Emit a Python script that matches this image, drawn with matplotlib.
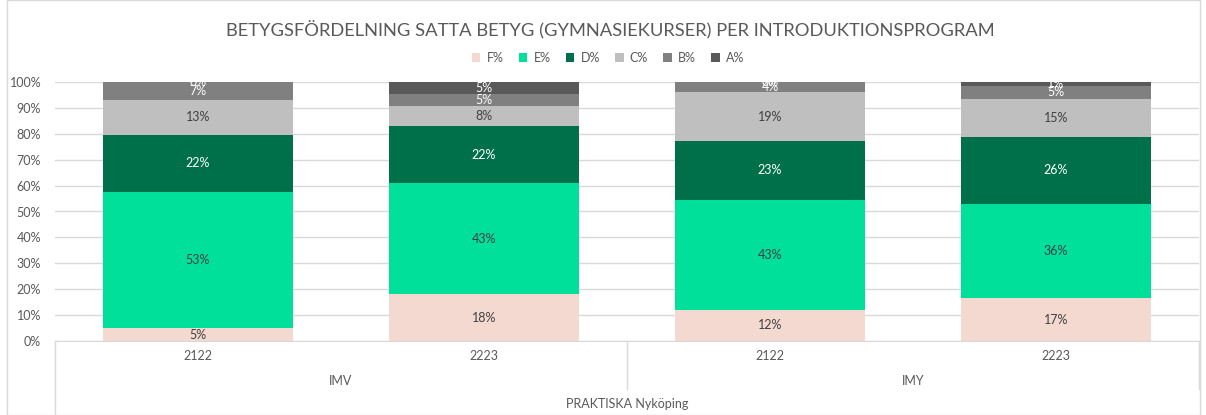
import numpy as np
import matplotlib
matplotlib.use("Agg")
import matplotlib.pyplot as plt
from matplotlib.patches import Rectangle

# Dados
anos = ['2122', '2223', '2122', '2223']
programas = ['IMV', 'IMY']
escola = 'PRAKTISKA Nyköping'
betyg = ['F%', 'E%', 'D%', 'C%', 'B%', 'A%']

F = [5.0, 18.1, 12.0, 16.6]
E = [52.6, 42.9, 42.6, 36.3]
D = [22.0, 22.0, 22.7, 25.9]
C = [13.4, 7.7, 18.7, 14.7]
B = [7.0, 4.7, 4.0, 5.1]
A = [0.0, 4.6, 0.0, 1.4]

cores = ['#F4D9D0', '#00E09A', '#00704A', '#BFBFBF', '#808080', '#595959']
corTexto = ['#404040', '#404040', 'white', '#404040', 'white', 'white']

plt.rcParams['font.family'] = ['Lato', 'DejaVu Sans']

W, H = 1206, 415
fig = plt.figure(figsize=(W / 100, H / 100), dpi=100)

# area do grafico em pixels
x0, x1 = 55, 1199
yTop, yBase = 82, 341
ax = fig.add_axes([x0 / W, 1 - yBase / H, (x1 - x0) / W, (yBase - yTop) / H])

x = np.arange(len(anos))
series = [F, E, D, C, B, A]
base = np.zeros(len(anos))
for i, s in enumerate(series):
    s = np.array(s)
    ax.bar(x, s, 0.665, bottom=base, color=cores[i], label=betyg[i], zorder=2)
    for j in range(len(anos)):
        ax.text(x[j], base[j] + s[j] / 2, '{:.0f}%'.format(s[j]), ha='center', va='center',
                fontsize=9, color=corTexto[i], zorder=3)
    base = base + s

ax.set_xlim(-0.5, len(anos) - 0.5)
ax.set_ylim(0, 100)
ax.set_yticks(np.arange(0, 101, 10))
ax.set_yticklabels(['{}%'.format(v) for v in range(0, 101, 10)], fontsize=9, color='#595959')
ax.grid(axis='y', color='#D9D9D9', linewidth=1, zorder=0)
ax.set_xticks([])
ax.tick_params(axis='y', length=0, pad=10)
for lado in ['top', 'right', 'left']:
    ax.spines[lado].set_visible(False)
ax.spines['bottom'].set_color('#D9D9D9')

# eixo de categorias em varios niveis
alturaAx = yBase - yTop
def yAx(py):
    return (yBase - py) / alturaAx

tr = ax.get_xaxis_transform()
for j in range(len(anos)):
    ax.text(x[j], yAx(356), anos[j], ha='center', va='center', fontsize=9, color='#595959', transform=tr)
for k, p in enumerate(programas):
    ax.text(0.5 + 2 * k, yAx(381), p, ha='center', va='center', fontsize=9, color='#595959', transform=tr)
ax.text(1.5, yAx(404), escola, ha='center', va='center', fontsize=9, color='#595959', transform=tr)

ax.plot([-0.5, -0.5], [0, yAx(415)], color='#D9D9D9', lw=1, transform=tr, clip_on=False)
ax.plot([1.5, 1.5], [0, yAx(389)], color='#D9D9D9', lw=1, transform=tr, clip_on=False)
ax.plot([3.5, 3.5], [0, yAx(389)], color='#D9D9D9', lw=1, transform=tr, clip_on=False)

# titulo e legenda
fig.text(0.506, 1 - 30 / H, 'BETYGSFÖRDELNING SATTA BETYG (GYMNASIEKURSER) PER INTRODUKTIONSPROGRAM',
         ha='center', va='center', fontsize=13.2, color='#595959')
fig.legend(loc='center', bbox_to_anchor=(608 / W, 1 - 58 / H), ncol=6, frameon=False, fontsize=9,
           handlelength=0.7, handleheight=0.7, handletextpad=0.5, columnspacing=1.2,
           labelcolor='#595959')

# moldura
fig.patches.append(Rectangle((7 / W, 0), (1200 - 7) / W, 1, transform=fig.transFigure,
                             fill=False, edgecolor='#D9D9D9', lw=1))

fig.savefig('out.png', dpi=100)
